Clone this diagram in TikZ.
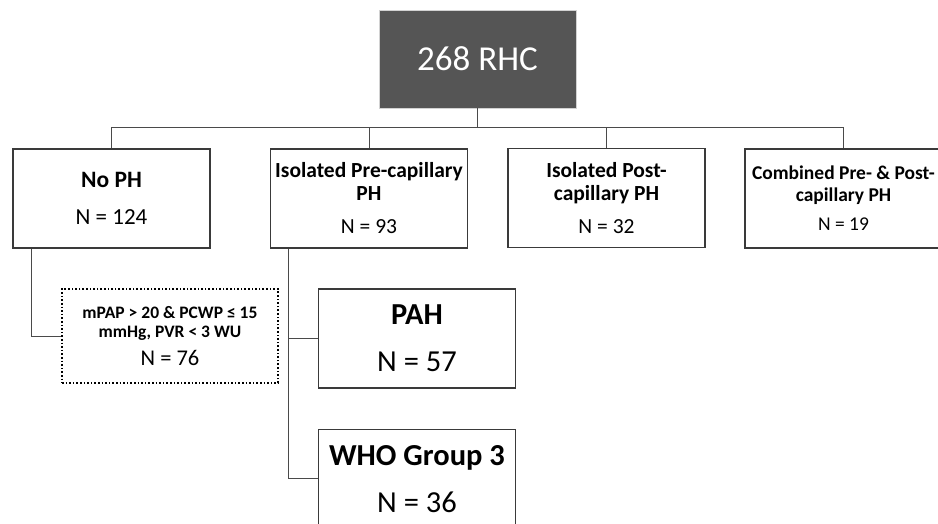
\documentclass[tikz,border=0pt]{standalone}
\usepackage{fontspec}
\setmainfont{Carlito}
\usetikzlibrary{positioning}
\definecolor{rootfill}{HTML}{555555}
\definecolor{boxline}{HTML}{3A3A3A}
\definecolor{wireline}{HTML}{4A4A4A}

\begin{document}
\begin{tikzpicture}[x=1pt, y=-1pt]
    % Styles
    \tikzstyle{rootblock} = [rectangle, draw=gray!35, fill=rootfill, text=white,
        minimum width=197pt, minimum height=98pt, font=\fontsize{35}{40}\selectfont]
    \tikzstyle{groupblock} = [rectangle, draw=boxline, line width=1.2pt, align=center,
        minimum width=197pt, minimum height=99pt, inner sep=0pt, font=\fontsize{21.5}{23}\selectfont]
    \tikzstyle{subblock} = [groupblock, font=\fontsize{30.5}{34}\selectfont]
    \tikzstyle{critblock} = [rectangle, draw, line width=1.6pt, dotted, align=center,
        minimum width=216pt, minimum height=94pt, inner sep=0pt, font=\fontsize{17.5}{19}\selectfont]
    \tikzstyle{wire} = [draw=wireline, line width=0.9pt]

    \useasboundingbox (0,0) rectangle (938,524);

    % === TOP: all catheterisations ===
    \node [rootblock] (rhc) at (477.5,59) {268 RHC};
    \coordinate (bus) at (477.5,127);

    % === ROW: haemodynamic groups ===
    \node [groupblock] (noph) at (111.5,198.5)
        {{\fontsize{23.5}{25}\selectfont\bfseries No PH}\\[14pt]{\fontsize{23}{24}\selectfont N = 124}};
    \node [groupblock] (isopre) at (369,198.5)
        {\textbf{Isolated Pre-capillary}\\\textbf{PH}\\[10pt]N = 93};
    \node [groupblock] (isopost) at (606.5,198)
        {\textbf{Isolated Post-}\\\textbf{capillary PH}\\[10pt]N = 32};
    \node [groupblock, font=\fontsize{19.5}{22}\selectfont] (combined) at (843.5,198.5)
        {\textbf{Combined Pre- \& Post-}\\\textbf{capillary PH}\\[7pt]N = 19};

    % === SUBGROUPS ===
    \node [critblock] (crit) at (170,336)
        {\textbf{mPAP > 20 \& PCWP ≤ 15}\\\textbf{mmHg, PVR < 3 WU}\\[9pt]{\fontsize{22.5}{24}\selectfont N = 76}};
    \node [subblock] (pah) at (417,338.5) {\textbf{PAH}\\[13pt]N = 57};
    \node [subblock, below=40pt of pah] (who) {\textbf{WHO Group 3}\\[13pt]N = 36};

    % === CONNECTORS ===
    \draw [wire] (rhc) -- (bus);
    \draw [wire] (bus) -| (noph);
    \draw [wire] (bus) -| (isopre);
    \draw [wire] (bus) -| (isopost);
    \draw [wire] (bus) -| (combined);
    \draw [wire] ([xshift=19pt]noph.south west) |- (crit.west);
    \draw [wire] ([xshift=19pt]isopre.south west) |- (pah.west);
    \draw [wire] ([xshift=19pt]isopre.south west) |- (who.west);

\end{tikzpicture}
\end{document}
